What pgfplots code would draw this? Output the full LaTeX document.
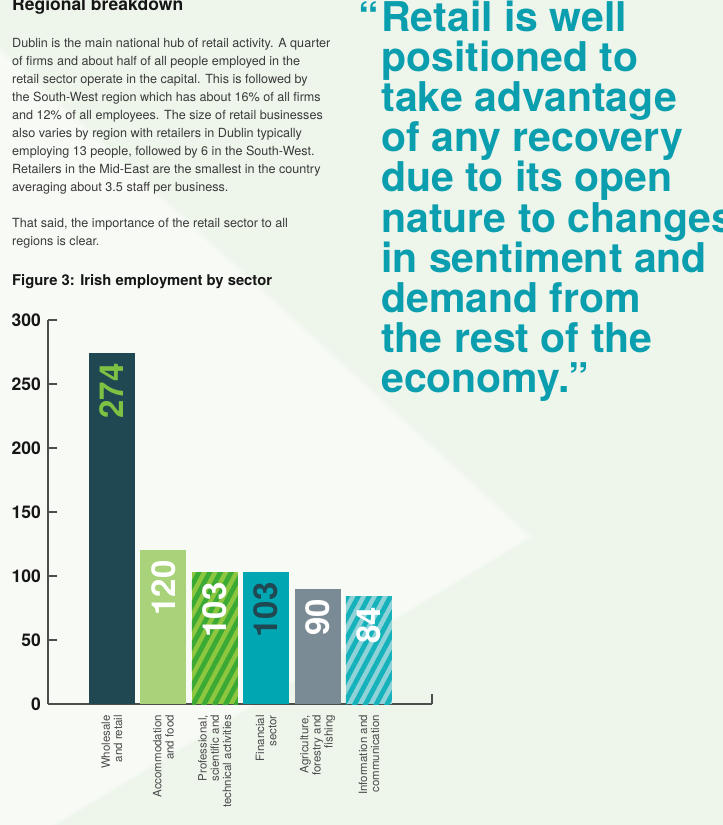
\documentclass[border=0pt]{standalone}
\usepackage{fontspec}
\setmainfont{TeX Gyre Heros}
\usepackage{pgfplots}
\pgfplotsset{compat=1.18}
\usetikzlibrary{patterns.meta}

\definecolor{bgmint}{HTML}{EEF6EC}
\definecolor{bgwhite}{HTML}{FCFDFB}
\definecolor{quoteteal}{HTML}{0A9EAE}
\definecolor{bodygray}{HTML}{3A3A3A}
\definecolor{titleblack}{HTML}{161616}
\definecolor{axisgray}{HTML}{4D4D4D}
\definecolor{labelgray}{HTML}{4A4A4A}
\definecolor{slate}{HTML}{1F4853}
\definecolor{limegreen}{HTML}{7DC242}
\definecolor{palegreen}{HTML}{A8D37A}
\definecolor{stripegreenA}{HTML}{8DC63F}
\definecolor{stripegreenB}{HTML}{3AAA35}
\definecolor{finteal}{HTML}{00A6B1}
\definecolor{agrigray}{HTML}{7B8B96}
\definecolor{stripetealA}{HTML}{8FD3D9}
\definecolor{stripetealB}{HTML}{15B2BB}

\newcommand{\bodyline}[2]{\node[anchor=base west, inner sep=0pt, text=bodygray,
  font=\fontsize{12.6}{18}\selectfont] at (12pt,-#1pt) {#2};}
\newcommand{\quoteline}[2]{\node[anchor=base west, inner sep=0pt, text=quoteteal,
  font=\bfseries\fontsize{41}{41}\selectfont] at (381pt,-#1pt) {#2};}

\begin{document}
\begin{tikzpicture}
\useasboundingbox (0,0) rectangle (723pt,-825pt);
\clip (0,0) rectangle (723pt,-825pt);

% page background with the pale chevron (soft edge from stacked layers)
\fill[bgmint] (0,0) rectangle (723pt,-825pt);
\foreach \d in {0,3,6,9} {
  \fill[bgwhite, opacity=0.3]
    (0pt,-47pt-\d pt) -- (533pt-\d pt,-537pt) -- (57pt-\d pt,-825pt) -- (0pt,-825pt) -- cycle;
}

% left column text
\node[anchor=base west, inner sep=0pt, text=titleblack,
  font=\bfseries\fontsize{17.5}{17.5}\selectfont] at (12pt,-10pt) {Regional breakdown};
\bodyline{47}{Dublin is the main national hub of retail activity. A quarter}
\bodyline{65}{of firms and about half of all people employed in the}
\bodyline{83}{retail sector operate in the capital. This is followed by}
\bodyline{101}{the South-West region which has about 16\% of all firms}
\bodyline{119}{and 12\% of all employees. The size of retail businesses}
\bodyline{137}{also varies by region with retailers in Dublin typically}
\bodyline{155}{employing 13 people, followed by 6 in the South-West.}
\bodyline{173}{Retailers in the Mid-East are the smallest in the country}
\bodyline{191}{averaging about 3.5 staff per business.}
\bodyline{227}{That said, the importance of the retail sector to all}
\bodyline{245}{regions is clear.}
\node[anchor=base west, inner sep=0pt, text=titleblack,
  font=\bfseries\fontsize{14.8}{14.8}\selectfont] at (12pt,-285.5pt) {Figure 3: Irish employment by sector};

% pull quote
\node[anchor=base east, inner sep=0pt, text=quoteteal,
  font=\bfseries\fontsize{41}{41}\selectfont] at (379pt,-31pt) {“};
\quoteline{31}{Retail is well}
\quoteline{71.2}{positioned to}
\quoteline{111.4}{take advantage}
\quoteline{151.6}{of any recovery}
\quoteline{191.8}{due to its open}
\quoteline{232}{nature to changes}
\quoteline{272.2}{in sentiment and}
\quoteline{312.4}{demand from}
\quoteline{352.6}{the rest of the}
\quoteline{392.8}{economy.”}

% bar chart
\begin{axis}[
  at={(48pt,-704pt)}, anchor=south west,
  scale only axis, width=384pt, height=384pt,
  xmin=-1.245, xmax=6.226, ymin=0, ymax=300,
  axis lines*=left,
  axis line style={draw=axisgray, line width=1.1pt},
  ytick={0,50,...,300},
  tick align=inside,
  major tick length=9pt,
  ytick style={draw=axisgray, line width=1.1pt},
  xtick={0,...,5},
  xtick style={draw=none},
  xticklabels={{Wholesale\\and retail},{Accommodation\\and food},
    {Professional,\\scientific and\\technical activities},{Financial\\sector},
    {Agriculture,\\forestry and\\fishing},{Information and\\communication}},
  xticklabel style={rotate=90, anchor=east, align=right, text=labelgray,
    font=\fontsize{11.5}{12.2}\selectfont, inner sep=0pt},
  xticklabel shift=11pt,
  yticklabel style={font=\bfseries\fontsize{17.5}{17.5}\selectfont, text=titleblack, inner sep=0pt},
  yticklabel shift=7pt,
  /pgf/number format/assume math mode=true,
  clip=false,
  every axis plot/.append style={ybar, bar width=46pt, draw=none,
    nodes near coords,
    nodes near coords style={rotate=90, anchor=east, inner xsep=10pt, inner ysep=0pt,
      font=\bfseries\fontsize{33}{33}\selectfont}},
]
\addplot[fill=slate, nodes near coords style={text=limegreen}] coordinates {(0,274)};
\addplot[fill=palegreen, nodes near coords style={text=white}] coordinates {(1,120)};
\addplot[fill=stripegreenA,
  postaction={pattern={Lines[angle=62, distance=9.5pt, line width=4.75pt]}, pattern color=stripegreenB},
  nodes near coords style={text=white}] coordinates {(2,103)};
\addplot[fill=finteal, nodes near coords style={text=slate}] coordinates {(3,103)};
\addplot[fill=agrigray, nodes near coords style={text=white}] coordinates {(4,90)};
\addplot[fill=stripetealA,
  postaction={pattern={Lines[angle=62, distance=9.5pt, line width=4.75pt]}, pattern color=stripetealB},
  nodes near coords style={text=white}] coordinates {(5,84)};
\end{axis}
% closing tick at the right end of the category axis
\draw[axisgray, line width=1.1pt] (432pt,-704pt) -- (432pt,-694pt);
\end{tikzpicture}
\end{document}
